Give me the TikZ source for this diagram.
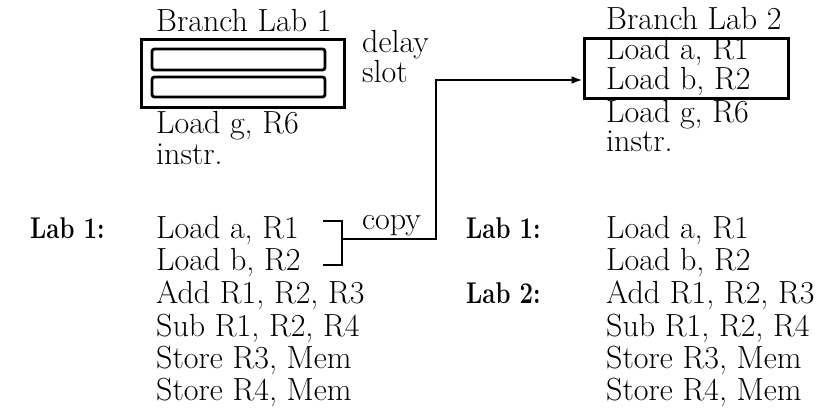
\documentclass[tikz,border=0pt]{standalone}
\usetikzlibrary{arrows.meta}
\newcommand{\labtext}[1]{\scalebox{0.8}[1]{\fontsize{30}{32}\selectfont\bfseries #1}}
\begin{document}
\begin{tikzpicture}[x=1pt,y=-1pt,
  txt/.style={anchor=base west,inner sep=0pt,font=\fontsize{32}{32}\selectfont},
  lab/.style={txt},
  box/.style={draw,line width=3pt},
  slotbox/.style={draw,line width=2.8pt,rounded corners=2.5pt},
  conn/.style={line width=2.8pt}]
\useasboundingbox (0,0) rectangle (829,411);
% left top
\node[txt] (bl1) at (156,32) {Branch Lab 1};
\draw[box] (141,40) rectangle (344,108);
\node[slotbox,minimum width=173pt,minimum height=21pt,inner sep=0pt] (s1) at (238.5,59.5) {};
\node[slotbox,minimum width=173pt,minimum height=20pt,inner sep=0pt] (s2) at (238.5,87) {};
\node[txt] (delay) at (362,53) {delay};
\node[txt] (slot) at (362,83) {slot};
\node[txt] (lg1) at (156,134) {Load g, R6};
\node[txt] (in1) at (156,165) {instr.};
% right top
\node[txt] (bl2) at (606,30) {Branch Lab 2};
\node[box,minimum width=204pt,minimum height=60pt,inner sep=0pt] (b2) at (686,69) {};
\node[txt] (la2) at (606,60) {Load a, R1};
\node[txt] (lb2) at (606,90) {Load b, R2};
\node[txt] (lg2) at (606,123) {Load g, R6};
\node[txt] (in2) at (606,152) {instr.};
% left bottom
\node[lab] (lab1) at (30,239) {\labtext{Lab 1:}};
\node[txt] (r1) at (156,239) {Load a, R1};
\node[txt] (r2) at (156,271) {Load b, R2};
\node[txt] (r3) at (156,303) {Add R1, R2, R3};
\node[txt] (r4) at (156,336) {Sub R1, R2, R4};
\node[txt] (r5) at (156,368) {Store R3, Mem};
\node[txt] (r6) at (156,400) {Store R4, Mem};
% right bottom
\node[lab] (lab1b) at (466,239) {\labtext{Lab 1:}};
\node[lab] (lab2b) at (466,303) {\labtext{Lab 2:}};
\node[txt] (q1) at (606,239) {Load a, R1};
\node[txt] (q2) at (606,271) {Load b, R2};
\node[txt] (q3) at (606,303) {Add R1, R2, R3};
\node[txt] (q4) at (606,336) {Sub R1, R2, R4};
\node[txt] (q5) at (606,368) {Store R3, Mem};
\node[txt] (q6) at (606,400) {Store R4, Mem};
% bracket and copy arrow
\coordinate (bt) at (323,221);
\coordinate (bb) at (323,265);
\coordinate (bm) at (342,239);
\draw[conn] (bt) -- (342,221) -- (342,265) -- (bb);
\node[txt] (copy) at (362,230) {copy};
\coordinate (tip) at (b2.west |- 0,80);
\draw[conn,-{Latex[length=11pt,width=8pt]}] (bm) -- (436,239) -- (436,80) -- (tip);
\end{tikzpicture}
\end{document}
